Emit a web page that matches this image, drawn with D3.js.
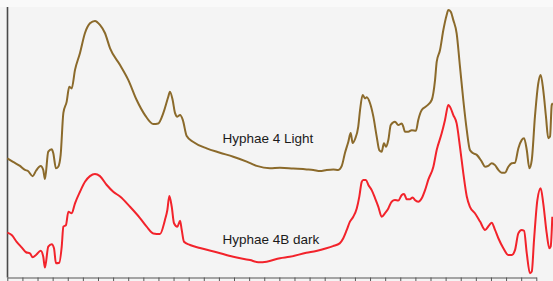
<!DOCTYPE html>
<html lang="en">
<head>
  <meta charset="UTF-8">
  <title>Hyphae spectra</title>
  <script src="https://d3js.org/d3.v7.min.js"></script>
  <style>
    html, body { margin: 0; padding: 0; background: #f4f4f4; }
    svg { display: block; }
    .axis path, .axis line { stroke: #555; }
    .label { font-family: "Liberation Sans", Arial, sans-serif; font-size: 13.5px; fill: #1a1a1a; }
  </style>
</head>
<body>
<svg id="chart" width="553" height="281"></svg>
<script>
// Dimensions
const width = 553, height = 281;
const margin = { top: 7, left: 7.3, right: 16.7, bottom: 3.5 };

// Wavenumber ticks, every 100 cm-1 from 4000 down to 500
const ticks = d3.range(4000, 499, -100);

// Spectrum: Hyphae 4 Light  (wavenumber, relative absorbance)
const lightWn = [4000, 3962, 3916, 3883, 3863, 3832, 3810, 3779, 3762, 3751, 3729, 3706, 3696, 3678, 3663, 3647,
  3629, 3607, 3590, 3574, 3552, 3519, 3486, 3453, 3420, 3387, 3354, 3320, 3254, 3199, 3144, 3089, 3034, 3001,
  2968, 2935, 2924, 2906, 2890, 2875, 2857, 2839, 2813, 2769, 2681, 2593, 2505, 2416, 2350, 2262, 2196, 2108,
  2019, 1975, 1931, 1887, 1843, 1810, 1787, 1766, 1744, 1728, 1715, 1699, 1678, 1666, 1649, 1633, 1622, 1600,
  1578, 1556, 1539, 1523, 1508, 1494, 1479, 1463, 1435, 1413, 1390, 1380, 1369, 1347, 1324, 1296, 1281, 1258,
  1225, 1192, 1170, 1159, 1137, 1115, 1093, 1082, 1066, 1049, 1027, 1005, 983, 960, 939, 917, 894, 861, 839,
  818, 795, 773, 751, 729, 707, 685, 663, 641, 619, 597, 581, 563, 546, 530, 509, 487, 471, 454, 436, 421, 409,
  398, 391];
const lightAbs = [44.1, 42.8, 41.3, 39.8, 39.4, 37.5, 39.5, 41.3, 39.8, 36.4, 46.6, 47.5, 46.1, 40.4, 41.0, 45.4,
  61.0, 65.2, 70.7, 70.1, 77.0, 83.3, 90.7, 94.3, 95.2, 93.7, 90.7, 85.0, 78.8, 73.2, 65.8, 60.2, 56.9, 57.1,
  60.9, 67.0, 68.9, 65.8, 60.9, 59.6, 60.2, 58.4, 52.4, 50.2, 47.8, 46.2, 44.7, 42.9, 41.3, 40.4, 40.6, 40.3,
  40.0, 39.8, 39.4, 39.8, 40.0, 39.8, 41.3, 46.1, 50.2, 53.5, 49.8, 51.3, 55.9, 62.1, 67.7, 66.4, 66.8, 64.6,
  59.6, 52.2, 47.2, 46.6, 49.7, 48.4, 50.9, 56.5, 57.7, 56.5, 57.1, 55.9, 54.0, 54.0, 54.6, 54.4, 58.4, 62.1,
  63.6, 65.8, 73.2, 80.0, 84.4, 91.8, 97.4, 99.3, 98.6, 95.5, 90.6, 78.2, 65.8, 54.6, 47.2, 46.0, 45.4, 42.9, 41.0,
  41.3, 42.3, 41.6, 39.8, 38.8, 38.8, 41.0, 42.3, 42.5, 47.8, 50.9, 51.6, 47.2, 40.4, 43.5, 59.6, 72.0, 75.1,
  69.5, 59.6, 51.6, 52.2, 63.9, 64.6];

// Spectrum: Hyphae 4B dark
const darkWn = [4000, 3971, 3938, 3905, 3876, 3850, 3832, 3810, 3779, 3762, 3751, 3729, 3706, 3691, 3678, 3656,
  3640, 3629, 3612, 3596, 3574, 3552, 3519, 3486, 3453, 3420, 3387, 3342, 3299, 3254, 3188, 3122, 3078, 3034,
  2990, 2957, 2941, 2928, 2912, 2897, 2875, 2857, 2846, 2831, 2791, 2725, 2615, 2505, 2394, 2339, 2284, 2196,
  2132, 2022, 1956, 1889, 1845, 1801, 1777, 1754, 1733, 1711, 1688, 1671, 1655, 1645, 1627, 1611, 1589, 1567,
  1545, 1523, 1501, 1479, 1457, 1435, 1413, 1390, 1375, 1357, 1336, 1318, 1303, 1281, 1258, 1236, 1215, 1181,
  1159, 1126, 1104, 1082, 1066, 1049, 1027, 1005, 983, 960, 939, 906, 872, 839, 811, 795, 773, 751, 718, 685,
  663, 641, 619, 597, 581, 563, 542, 530, 515, 493, 471, 454, 431, 414, 405, 394];
const darkAbs = [16.5, 15.6, 13.1, 11.0, 9.2, 8.8, 7.3, 8.2, 9.8, 7.5, 3.5, 11.3, 12.2, 10.7, 5.1, 5.3,
  11.3, 18.7, 19.3, 24.3, 23.7, 27.4, 31.7, 35.4, 37.5, 38.3, 37.5, 34.2, 31.7, 29.9, 26.1, 21.9, 18.7, 16.2,
  16.0, 21.2, 24.9, 30.1, 26.1, 20.0, 18.7, 20.9, 17.5, 13.1, 11.9, 10.8, 9.2, 7.5, 6.3, 5.5, 5.7, 7.0,
  7.5, 9.0, 9.7, 10.7, 11.5, 12.5, 14.4, 17.5, 20.6, 22.4, 25.5, 29.9, 35.4, 36.1, 36.1, 34.2, 32.3, 29.3,
  26.1, 22.4, 23.7, 25.5, 28.0, 28.6, 28.4, 30.5, 30.9, 28.9, 28.9, 29.6, 28.6, 28.0, 29.3, 32.3, 36.1, 41.0,
  47.2, 53.4, 58.4, 63.9, 62.7, 60.2, 57.1, 48.4, 38.6, 29.9, 26.1, 23.7, 20.6, 17.5, 19.3, 20.2, 17.5, 14.4,
  10.7, 8.2, 8.2, 10.0, 16.2, 17.5, 17.2, 8.8, 1.4, 2.0, 13.8, 28.6, 33.0, 27.4, 16.2, 10.7, 11.3, 22.4];

const series = [
  { name: 'Hyphae 4 Light', wn: lightWn, abs: lightAbs, color: '#8b6a2b' },
  { name: 'Hyphae 4B dark', wn: darkWn, abs: darkAbs, color: '#f2232b' }
];

// Scales
const x = d3.scaleLinear().domain([4000, 500]).range([margin.left, width - margin.right]);
const y = d3.scaleLinear().domain([0, 100]).range([height - margin.bottom - 0.5, margin.top + 1]);

const svg = d3.select('#chart');

// whiter strip above the plot
svg.append('rect').attr('x', 0).attr('y', 0).attr('width', width).attr('height', margin.top)
  .attr('fill', '#f9f9f9');

// Bottom axis, unlabeled ticks
const xAxis = d3.axisBottom(x).tickValues(ticks).tickSize(4).tickSizeOuter(0).tickFormat('');
svg.append('g').attr('class', 'axis')
  .attr('transform', `translate(0,${height - margin.bottom})`)
  .call(xAxis);

// Left axis line
svg.append('line')
  .attr('x1', margin.left + 0.2).attr('x2', margin.left + 0.2)
  .attr('y1', margin.top).attr('y2', height - margin.bottom)
  .attr('stroke', '#4a4a4a').attr('stroke-width', 1.6);

// Lines
const lineGen = d3.line()
  .x(d => x(d[0]))
  .y(d => y(d[1]))
  .curve(d3.curveMonotoneX);

series.forEach(s => {
  svg.append('path')
    .attr('fill', 'none')
    .attr('stroke', s.color)
    .attr('stroke-width', 2)
    .attr('stroke-linejoin', 'round')
    .attr('d', lineGen(d3.zip(s.wn, s.abs)));
});

// Labels
svg.append('text').attr('class', 'label').attr('x', 222.5).attr('y', 143).text(series[0].name);
svg.append('text').attr('class', 'label').attr('x', 222.5).attr('y', 244).text(series[1].name);
</script>
</body>
</html>
